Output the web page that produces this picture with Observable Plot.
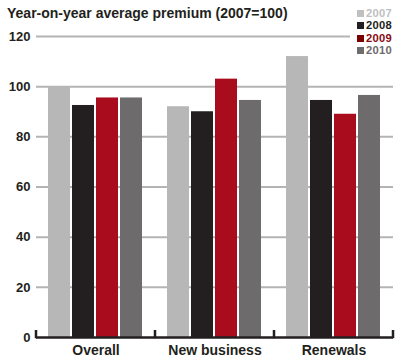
<!DOCTYPE html>
<html>
<head>
<meta charset="utf-8">
<script src="https://cdn.jsdelivr.net/npm/d3@7"></script>
<script src="https://cdn.jsdelivr.net/npm/@observablehq/plot@0.6"></script>
<style>
  html, body { margin: 0; padding: 0; background: #fff; }
  #wrap { position: relative; width: 404px; height: 364px; font-family: "Liberation Sans", Arial, Helvetica, sans-serif; }
  #title { position: absolute; left: 7px; top: 6px; font-size: 14px; line-height: 14px; font-weight: bold; color: #231f20; white-space: nowrap; }
  #legend { position: absolute; left: 350px; top: 7px; background: #fff; padding-left: 7px; width: 47px; }
  .row { font-size: 11.2px; line-height: 12.4px; height: 12.4px; font-weight: bold; white-space: nowrap; letter-spacing: 0.3px; }
  .sw { display: inline-block; width: 7px; height: 7px; margin-right: 2px; vertical-align: 0px; }
</style>
</head>
<body>
<div id="wrap">
  <div id="chart"></div>
  <div id="title">Year-on-year average premium (2007=100)</div>
  <div id="legend"></div>
</div>
<script>
const categories = ["Overall", "New business", "Renewals"];
const years = ["2007", "2008", "2009", "2010"];
const values2007 = [100, 92, 112];
const values2008 = [92.5, 90, 94.5];
const values2009 = [95.5, 103, 89];
const values2010 = [95.5, 94.5, 96.5];
const yTicks = [0, 20, 40, 60, 80, 100, 120];

const barColors = ["#b8b7b7", "#231f20", "#a80c1d", "#6d6b6c"];
const legendSwatch = ["#c0c0c0", "#231f20", "#7a0000", "#6d6d6d"];
const legendText = ["#c0c0c0", "#231f20", "#8a0a14", "#6d6b6c"];

const series = [values2007, values2008, values2009, values2010];
const data = categories.flatMap((c, i) => years.map((y, j) => ({category: c, year: y, value: series[j][i]})));

const chart = Plot.plot({
  width: 404,
  height: 364,
  marginTop: 36,
  marginBottom: 27,
  marginLeft: 35,
  marginRight: 11,
  style: {fontFamily: "'Liberation Sans', Arial, Helvetica, sans-serif", color: "#231f20", background: "#fff"},
  fx: {domain: categories, padding: 0, label: null},
  x: {domain: years, paddingInner: 0.083, paddingOuter: 0.52, axis: null},
  y: {domain: [0, 120], label: null},
  color: {domain: years, range: barColors},
  marks: [
    Plot.ruleY(yTicks.filter(d => d > 0), {stroke: "#b4b4b4", strokeWidth: 2}),
    Plot.barY(data, {fx: "category", x: "year", y: "value", fill: "year"}),
    Plot.ruleY([0], {stroke: "#231f20", strokeWidth: 2.5}),
    Plot.axisY({ticks: yTicks, tickSize: 0, tickPadding: 6, fontSize: 13, fontWeight: "bold", label: null}),
    Plot.axisFx({anchor: "bottom", tickSize: 0, tickPadding: 8, fontSize: 14, fontWeight: "bold", label: null})
  ]
});

// Small upward tick marks at the category band edges, placed via the plot's own scales
const fxS = chart.scale("fx");
const yS = chart.scale("y");
const y0 = yS.apply(0);
const edges = [];
categories.forEach((c, i) => {
  const left = fxS.apply(c);
  if (i === 0) edges.push(left);
  edges.push(left + fxS.bandwidth);
});
const g = d3.select(chart).append("g").attr("stroke", "#231f20").attr("stroke-width", 2.5);
edges.forEach(x => {
  g.append("line").attr("x1", x).attr("x2", x).attr("y1", y0 + 1.2).attr("y2", y0 - 7);
});

document.getElementById("chart").appendChild(chart);

const legend = d3.select("#legend");
years.forEach((y, i) => {
  const row = legend.append("div").attr("class", "row").style("color", legendText[i]);
  row.append("span").attr("class", "sw").style("background", legendSwatch[i]);
  row.append("span").text(y);
});
</script>
</body>
</html>
